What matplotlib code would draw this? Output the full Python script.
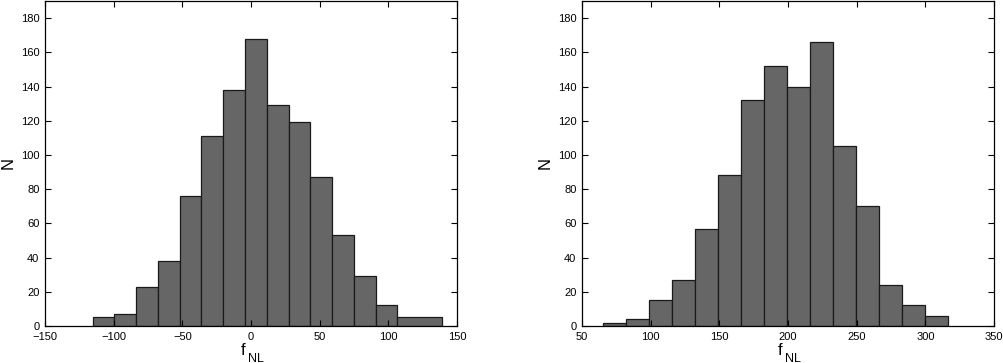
import matplotlib
matplotlib.use("Agg")
import matplotlib.pyplot as plt
import numpy as np

plt.rcParams['font.family'] = ['Liberation Sans', 'DejaVu Sans']

# left histogram: bin edges and counts (last bin is a double-width bin)
left_edges = [-115.3, -99.45, -83.6, -67.75, -51.9, -36.05, -20.2, -4.35,
              11.5, 27.35, 43.2, 59.05, 74.9, 90.75, 106.6, 138.8]
left_counts = [5, 7, 23, 38, 76, 111, 138, 168, 129, 119, 87, 53, 29, 12, 5]

# right histogram
right_edges = [65.3, 82.04, 98.78, 115.52, 132.26, 149.0, 165.74, 182.48,
               199.22, 215.96, 232.7, 249.44, 266.18, 282.92, 299.66, 316.4]
right_counts = [2, 4, 15, 27, 57, 88, 132, 152, 140, 166, 105, 70, 24, 12, 6]

left_xticks = [-150, -100, -50, 0, 50, 100, 150]
right_xticks = [50, 100, 150, 200, 250, 300, 350]
yticks = [0, 20, 40, 60, 80, 100, 120, 140, 160, 180]

fig = plt.figure(figsize=(10.04, 3.63), dpi=100)
ax1 = fig.add_axes([45 / 1004, 37 / 363, 412 / 1004, 325 / 363])
ax2 = fig.add_axes([582 / 1004, 37 / 363, 412 / 1004, 325 / 363])


def draw(ax, edges, counts, xlim, xticks):
    edges = np.array(edges)
    ax.bar(edges[:-1], counts, width=np.diff(edges), align='edge',
           color='#666666', edgecolor='#1a1a1a', linewidth=0.9)
    ax.set_xlim(*xlim)
    ax.set_ylim(0, 190)
    ax.set_xticks(xticks)
    ax.set_yticks(yticks)
    ax.tick_params(direction='in', top=True, right=True, length=4,
                   width=0.8, labelsize=8, pad=4)
    for s in ax.spines.values():
        s.set_linewidth(0.9)
    ax.set_ylabel('N', fontsize=12, labelpad=4)
    pos = ax.get_position()
    cx = pos.x0 + pos.width / 2
    fig.text(cx - 6 / 1004, 8 / 363, 'f', fontsize=12, ha='right',
             va='baseline')
    fig.text(cx - 3 / 1004, 1 / 363, 'NL', fontsize=9, ha='left',
             va='baseline')


draw(ax1, left_edges, left_counts, (-150, 150), left_xticks)
draw(ax2, right_edges, right_counts, (50, 350), right_xticks)

fig.savefig('out.png', dpi=100)
